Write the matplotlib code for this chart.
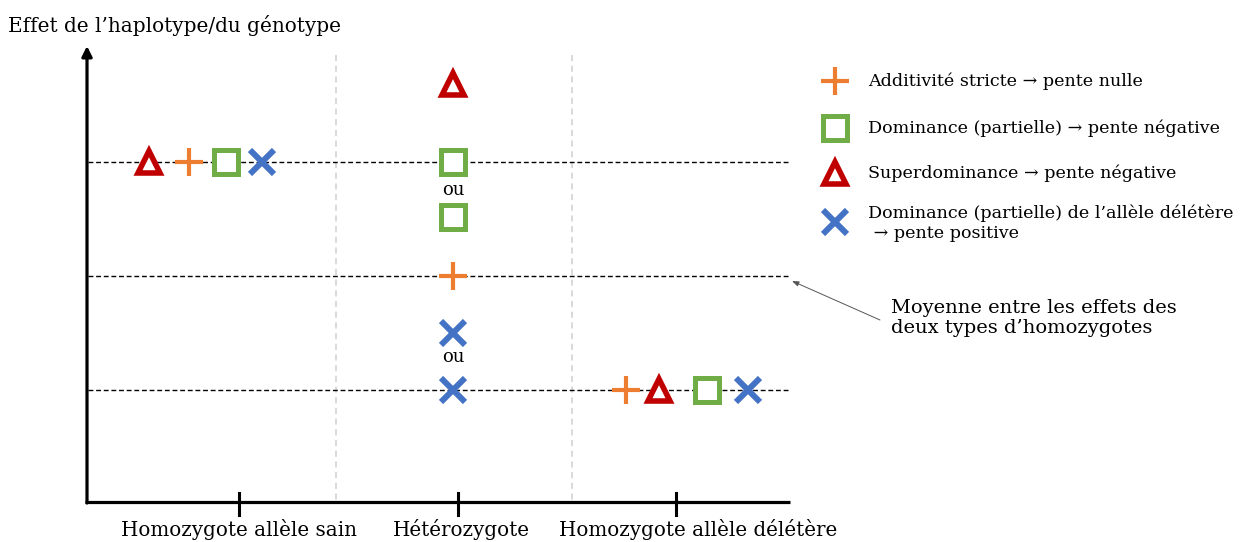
import matplotlib
matplotlib.use("Agg")
from matplotlib import pyplot as plt

# --- data -------------------------------------------------------------
genotypes = ["Homozygote allèle sain", "Hétérozygote", "Homozygote allèle délétère"]
geno_x = [0, 1, 2]

# effect of each genotype (homozygote sain = 1, homozygote délétère = 0)
additivite = [1.0, 0.5, 0.0]
dominance = [1.0, 1.0, 0.76, 0.0]          # het: two options ("ou")
superdominance = [1.0, 1.34, 0.0]
dominance_del = [1.0, 0.25, 0.0, 0.0]      # het: two options ("ou")
niveaux = [1.0, 0.5, 0.0]

legend_labels = [
    "Additivité stricte \u2192 pente nulle",
    "Dominance (partielle) \u2192 pente négative",
    "Superdominance \u2192 pente négative",
    "Dominance (partielle) de l\u2019allèle délétère\n \u2192 pente positive",
]

# --- layout -----------------------------------------------------------
W, H = 1244, 542
X0, UX = 239, 218.5     # pixel of genotype 0, pixels per genotype
Y0, UY = 390, 228       # pixel of effect 0, pixels per effect unit

def px(x):
    return (x - X0) / UX

def py(y):
    return (Y0 - y) / UY

orange, green, red, blue = "#ED7D31", "#70AD47", "#C00000", "#4472C4"
serif = "DejaVu Serif"

fig = plt.figure(figsize=(W / 100, H / 100), dpi=100)
ax = fig.add_axes([0, 0, 1, 1])
ax.set_xlim(px(0), px(W))
ax.set_ylim(py(H), py(0))
ax.axis("off")

# axes
ax.annotate("", xy=(px(87), py(46)), xytext=(px(87), py(503)),
            arrowprops=dict(arrowstyle="-|>,head_width=0.3,head_length=0.6",
                            lw=2.3, color="black", shrinkA=0, shrinkB=0))
ax.plot([px(85), px(790)], [py(502), py(502)], color="black", lw=2.3,
        solid_capstyle="butt")
for gx in geno_x:
    ax.plot([gx, gx], [py(493), py(515)], color="black", lw=2.2)

label_dx = [0.0, 0.02, 0.1]
for gx, dx, lab in zip(geno_x, label_dx, genotypes):
    ax.text(gx + dx, py(530), lab, ha="center", va="center",
            fontsize=14.3, family=serif)

ax.text(px(8), py(25), "Effet de l\u2019haplotype/du génotype", ha="left",
        va="center", fontsize=14.4, family=serif)

# separators
for sx in [px(336), px(572)]:
    ax.plot([sx, sx], [py(55), py(500)], color="#CFCFCF", lw=1.1,
            dashes=(4, 3))

# reference levels
for lv in niveaux:
    ax.plot([px(88), px(790)], [lv, lv], color="black", lw=1.0,
            dashes=(3.5, 2))

# markers
het = 1 - 0.02
mk_plus = dict(marker="+", color=orange, ms=19.5, mew=3.0, ls="none", zorder=5)
mk_sq = dict(marker="s", mfc="white", mec=green, ms=17, mew=3.6, ls="none",
             zorder=5)
mk_tri = dict(marker="^", mfc="white", mec=red, ms=15.5, mew=4.0, ls="none",
              zorder=5)
mk_x = dict(marker="x", color=blue, ms=17, mew=4.3, ls="none", zorder=5)

ax.plot([-0.23, het, 1.77], additivite, **mk_plus)
ax.plot([-0.06, het, het, 2.14], dominance, **mk_sq)
ax.plot([-0.41, het, 1.92], superdominance, **mk_tri)
ax.plot([0.105, het, het, 2.33], dominance_del, **mk_x)

for oy in [py(190), py(357)]:
    ax.text(het, oy, "ou", ha="center", va="center", fontsize=13,
            family=serif)

# legend
leg_y = [81, 128, 173, 222]
leg_styles = [mk_plus, mk_sq, mk_tri, mk_x]
for ly, st, lab in zip(leg_y, leg_styles, legend_labels):
    ax.plot([px(835)], [py(ly)], **st)
    ty = ly if "\n" not in lab else ly + 1
    ax.text(px(868), py(ty), lab, ha="left", va="center", fontsize=12.6,
            family=serif, linespacing=1.2)

# annotation
ax.text(px(891), py(318), "Moyenne entre les effets des\ndeux types d\u2019homozygotes",
        ha="left", va="center", fontsize=14.0, family=serif, linespacing=1.15)
ax.annotate("", xy=(px(792), py(281)), xytext=(px(880), py(320)),
            arrowprops=dict(arrowstyle="-|>,head_width=0.15,head_length=0.4",
                            lw=0.7, color="#555555", shrinkA=0, shrinkB=0))

fig.savefig("out.png", dpi=100)
